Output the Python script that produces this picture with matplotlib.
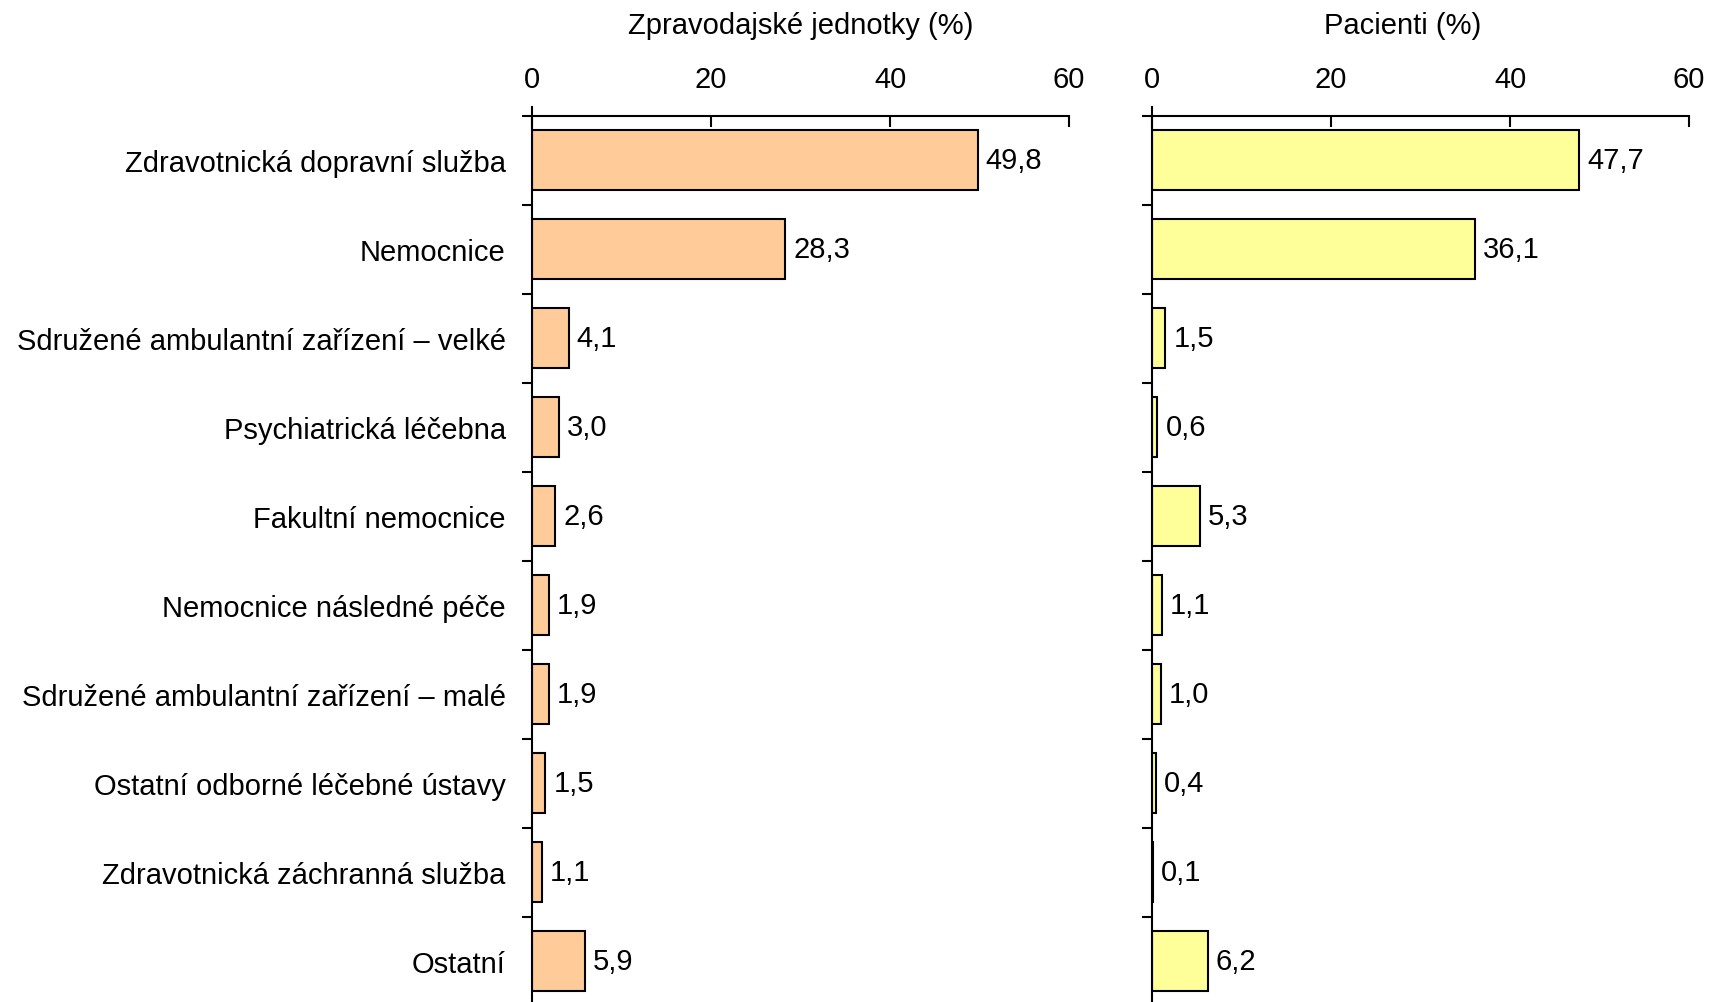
import numpy as np
import matplotlib.pyplot as plt

plt.rcParams['font.family'] = ['Liberation Sans', 'DejaVu Sans']

categories = [
    'Zdravotnická dopravní služba',
    'Nemocnice',
    'Sdružené ambulantní zařízení – velké',
    'Psychiatrická léčebna',
    'Fakultní nemocnice',
    'Nemocnice následné péče',
    'Sdružené ambulantní zařízení – malé',
    'Ostatní odborné léčebné ústavy',
    'Zdravotnická záchranná služba',
    'Ostatní',
]
jednotky = [49.8, 28.3, 4.1, 3.0, 2.6, 1.9, 1.9, 1.5, 1.1, 5.9]
pacienti = [47.7, 36.1, 1.5, 0.6, 5.3, 1.1, 1.0, 0.4, 0.1, 6.2]
xticks = [0, 20, 40, 60]

fs = 21
fig = plt.figure(figsize=(17.19, 10.03), dpi=100)
ax1 = fig.add_axes([0.3095, -0.0035, 0.3124, 0.8873])
ax2 = fig.add_axes([0.6702, -0.0035, 0.3124, 0.8873])

y = np.arange(len(categories))

def draw(ax, vals, color, title, show_labels, title_x):
    ax.barh(y, vals, height=0.67, color=color, edgecolor='black', linewidth=1.5)
    for yi, v in zip(y, vals):
        ax.text(v + 0.9, yi, f'{v:.1f}'.replace('.', ','), va='center', ha='left', fontsize=fs)
    ax.set_xlim(0, 60)
    ax.set_ylim(len(categories) - 0.5, -0.5)
    ax.xaxis.tick_top()
    ax.xaxis.set_label_position('top')
    ax.set_xticks(xticks)
    ax.tick_params(axis='x', direction='in', length=8, width=1.5, labelsize=fs, pad=16.5)
    ax.set_xlabel(title, fontsize=fs, labelpad=22.5, x=title_x)
    # y ticks at category boundaries
    ax.set_yticks(np.append(-0.5, y + 0.5), minor=True)
    ax.set_yticks(y)
    ax.tick_params(axis='y', which='major', length=0, labelsize=fs, pad=19)
    ax.tick_params(axis='y', which='minor', direction='out', length=7, width=1.5)
    if show_labels:
        ax.set_yticklabels(categories)
    else:
        ax.set_yticklabels([])
    for s in ['right', 'bottom']:
        ax.spines[s].set_visible(False)
    for s in ['left', 'top']:
        ax.spines[s].set_linewidth(1.5)
    ax.spines['left'].set_bounds(-0.6, 9.6)

draw(ax1, jednotky, '#FFCC99', 'Zpravodajské jednotky (%)', True, 0.5)
draw(ax2, pacienti, '#FFFF99', 'Pacienti (%)', False, 0.4665)

fig.savefig('out.png', dpi=100)
